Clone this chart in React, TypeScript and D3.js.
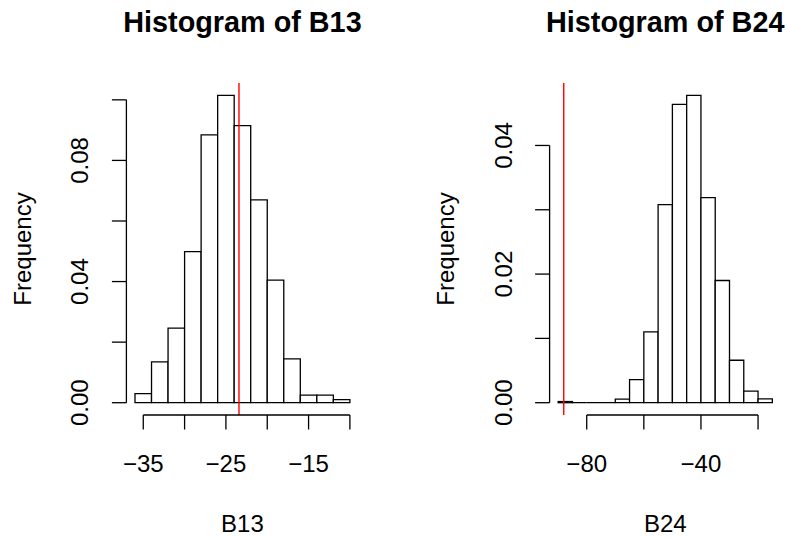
import React from "react";
import * as d3 from "d3";

// ---- Data ----
const b13Breaks = [-36, -34, -32, -30, -28, -26, -24, -22, -20, -18, -16, -14, -12, -10];
const b13Density = [0.003, 0.0135, 0.0246, 0.0499, 0.0884, 0.1015, 0.0915, 0.067, 0.0405, 0.0145, 0.0025, 0.0025, 0.001];
const b13Ref = -23.42;
const b13XTicks = [-35, -30, -25, -20, -15, -10];
const b13XLabels = [-35, -25, -15];
const b13YTicks = [0, 0.02, 0.04, 0.06, 0.08, 0.1];
const b13YLabels = [0, 0.04, 0.08];

const b24Breaks = [-90, -85, -80, -75, -70, -65, -60, -55, -50, -45, -40, -35, -30, -25, -20, -15];
const b24Density = [0.00018, 0, 0, 0, 0.00057, 0.0036, 0.011, 0.0308, 0.0464, 0.0478, 0.0319, 0.019, 0.0066, 0.0018, 0.0006];
const b24Ref = -88.05;
const b24XTicks = [-80, -60, -40, -20];
const b24XLabels = [-80, -40];
const b24YTicks = [0, 0.01, 0.02, 0.03, 0.04];
const b24YLabels = [0, 0.02, 0.04];

const FONT = "'Liberation Sans', Arial, Helvetica, sans-serif";
const TOP = 83;
const BOTTOM = 415;
const TICK = 14.5;

const fmtX = (v: number) => (v < 0 ? "\u2212" + Math.abs(v) : String(v));
const fmtY = d3.format(".2f");

type PanelProps = {
  left: number;
  right: number;
  name: string;
  breaks: number[];
  dens: number[];
  refV: number;
  xTicks: number[];
  xLabels: number[];
  yTicks: number[];
  yLabels: number[];
};

function Panel(p: PanelProps) {
  const lo = p.breaks[0];
  const hi = p.breaks[p.breaks.length - 1];
  const r = hi - lo;
  const x = d3.scaleLinear().domain([lo - 0.04 * r, hi + 0.04 * r]).range([p.left, p.right]);
  const maxD = d3.max(p.dens) as number;
  const y = d3.scaleLinear().domain([-0.04 * maxD, 1.04 * maxD]).range([BOTTOM, TOP]);
  const cx = (p.left + p.right) / 2;
  const cy = (TOP + BOTTOM) / 2;
  const ax = p.left;
  const sw = 1.3;

  return (
    <g>
      <text x={cx} y={31.5} textAnchor="middle" fontFamily={FONT} fontWeight="bold" fontSize={28.8}>
        {"Histogram of " + p.name}
      </text>
      {/* bars */}
      {p.dens.map((d, i) => {
        const x0 = x(p.breaks[i]);
        const x1 = x(p.breaks[i + 1]);
        const y0 = y(0);
        const y1 = y(d);
        const path = `M${x0},${y0}L${x0},${y1}L${x1},${y1}L${x1},${y0}Z`;
        return <path key={i} d={path} fill="white" stroke="black" strokeWidth={sw} />;
      })}
      {/* reference line */}
      <line x1={x(p.refV)} x2={x(p.refV)} y1={TOP} y2={BOTTOM} stroke="#FF0000" strokeWidth={1.4} />
      {/* x axis */}
      <line
        x1={x(p.xTicks[0])}
        x2={x(p.xTicks[p.xTicks.length - 1])}
        y1={BOTTOM}
        y2={BOTTOM}
        stroke="black"
        strokeWidth={sw}
      />
      {p.xTicks.map((t) => (
        <line key={"xt" + t} x1={x(t)} x2={x(t)} y1={BOTTOM} y2={BOTTOM + TICK} stroke="black" strokeWidth={sw} />
      ))}
      {p.xLabels.map((t) => (
        <text key={"xl" + t} x={x(t)} y={471.5} textAnchor="middle" fontFamily={FONT} fontSize={24}>
          {fmtX(t)}
        </text>
      ))}
      <text x={cx} y={531.5} textAnchor="middle" fontFamily={FONT} fontSize={24}>
        {p.name}
      </text>
      {/* y axis */}
      <line
        x1={ax}
        x2={ax}
        y1={y(p.yTicks[0])}
        y2={y(p.yTicks[p.yTicks.length - 1])}
        stroke="black"
        strokeWidth={sw}
      />
      {p.yTicks.map((t) => (
        <line key={"yt" + t} x1={ax} x2={ax - TICK} y1={y(t)} y2={y(t)} stroke="black" strokeWidth={sw} />
      ))}
      {p.yLabels.map((t) => (
        <text
          key={"yl" + t}
          transform={`translate(${ax - 38.1},${y(t)}) rotate(-90)`}
          textAnchor="middle"
          fontFamily={FONT}
          fontSize={24}
        >
          {fmtY(t)}
        </text>
      ))}
      <text
        transform={`translate(${ax - 95.6},${cy}) rotate(-90)`}
        textAnchor="middle"
        fontFamily={FONT}
        fontSize={24}
      >
        Frequency
      </text>
    </g>
  );
}

export default function App() {
  return (
    <svg
      width={785}
      height={539}
      style={{ position: "absolute", left: 0, top: 0, background: "white" }}
    >
      <rect x={0} y={0} width={785} height={539} fill="white" />
      <Panel
        left={126.4}
        right={358.5}
        name="B13"
        breaks={b13Breaks}
        dens={b13Density}
        refV={b13Ref}
        xTicks={b13XTicks}
        xLabels={b13XLabels}
        yTicks={b13YTicks}
        yLabels={b13YLabels}
      />
      <Panel
        left={549.6}
        right={780.9}
        name="B24"
        breaks={b24Breaks}
        dens={b24Density}
        refV={b24Ref}
        xTicks={b24XTicks}
        xLabels={b24XLabels}
        yTicks={b24YTicks}
        yLabels={b24YLabels}
      />
    </svg>
  );
}
